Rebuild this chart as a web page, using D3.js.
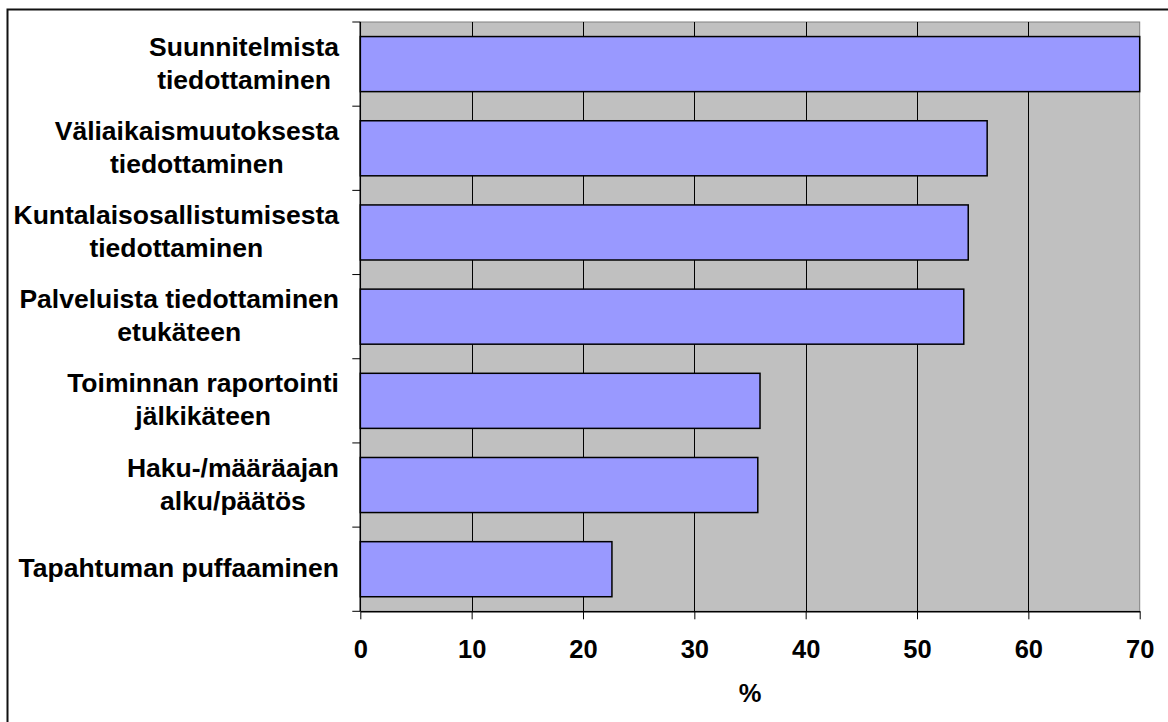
<!DOCTYPE html>
<html>
<head>
<meta charset="utf-8">
<script src="https://cdn.jsdelivr.net/npm/d3@7"></script>
<style>
  html, body { margin: 0; padding: 0; background: #fff; }
  svg { display: block; font-family: "Liberation Sans", Arial, sans-serif; }
</style>
</head>
<body>
<svg id="chart" width="1168" height="722"></svg>
<script>
// ---- data ----
const categories = [
  ["Suunnitelmista", "tiedottaminen"],
  ["Väliaikaismuutoksesta", "tiedottaminen"],
  ["Kuntalaisosallistumisesta", "tiedottaminen"],
  ["Palveluista tiedottaminen", "etukäteen"],
  ["Toiminnan raportointi", "jälkikäteen"],
  ["Haku-/määräajan", "alku/päätös"],
  ["Tapahtuman puffaaminen"]
];
const values = [70.0, 56.3, 54.6, 54.2, 35.9, 35.7, 22.6];
const xTicks = [0, 10, 20, 30, 40, 50, 60, 70];
const xTitle = "%";

(function () {
// ---- layout ----
const svg = d3.select("#chart");
const pL = 360.3, pR = 1139.7, pT = 22, pB = 611.3;
const fontSize = 25.5;
const labelFont = 26.5;

// outer frame (cut off at right and bottom)
svg.append("rect")
  .attr("x", 7.5).attr("y", 9.5).attr("width", 1300).attr("height", 900)
  .attr("fill", "none").attr("stroke", "#111").attr("stroke-width", 2);

const x = d3.scaleLinear().domain([0, 70]).range([pL, pR]);
const keys = categories.map((c, i) => i);
const y = d3.scaleBand().domain(keys).range([pT, pB]).padding(0);
const barH = y.bandwidth() * 0.654;

// plot area
svg.append("rect")
  .attr("x", pL).attr("y", pT).attr("width", pR - pL).attr("height", pB - pT)
  .attr("fill", "#C0C0C0").attr("stroke", "#808080").attr("stroke-width", 1);

// gridlines
svg.append("g").selectAll("line").data(xTicks.filter(t => t > 0 && t < 70)).join("line")
  .attr("x1", d => Math.round(x(d)) + 0.5).attr("x2", d => Math.round(x(d)) + 0.5)
  .attr("y1", pT).attr("y2", pB)
  .attr("stroke", "#000").attr("stroke-width", 1);

// bars
svg.append("g").selectAll("rect").data(values).join("rect")
  .attr("x", x(0))
  .attr("y", (d, i) => y(i) + (y.bandwidth() - barH) / 2)
  .attr("width", d => x(d) - x(0))
  .attr("height", barH)
  .attr("fill", "#9999FF")
  .attr("stroke", "#000").attr("stroke-width", 1.5);

// x axis
const xAxis = svg.append("g")
  .attr("transform", `translate(0,${pB})`)
  .call(d3.axisBottom(x).tickValues(xTicks).tickSize(8).tickPadding(21).tickSizeOuter(0));
xAxis.select(".domain").attr("stroke", "#000").attr("stroke-width", 1.5);
xAxis.selectAll(".tick line").attr("stroke", "#000");
xAxis.selectAll("text")
  .attr("font-size", fontSize).attr("font-weight", "bold").attr("fill", "#000")
  .attr("font-family", "Liberation Sans, Arial, sans-serif");

// y axis (ticks at band boundaries)
const yAxisG = svg.append("g");
yAxisG.append("line").attr("x1", pL).attr("x2", pL).attr("y1", pT).attr("y2", pB)
  .attr("stroke", "#000").attr("stroke-width", 1.5);
const boundaries = keys.map(k => y(k)).concat([pB]);
yAxisG.selectAll("line.tk").data(boundaries).join("line").attr("class", "tk")
  .attr("x1", pL - 8).attr("x2", pL)
  .attr("y1", d => d).attr("y2", d => d)
  .attr("stroke", "#000").attr("stroke-width", 1);

// category labels: centered multi-line blocks, right edge at ~339
const labelRight = 339;
const lineH = 33;
const labG = svg.append("g")
  .attr("font-size", labelFont).attr("font-weight", "bold").attr("fill", "#000");
categories.forEach((lines, i) => {
  const cy = y(i) + y.bandwidth() / 2 - 1.5;
  const t = labG.append("text").attr("text-anchor", "middle");
  const n = lines.length;
  lines.forEach((ln, j) => {
    t.append("tspan").text(ln)
      .attr("y", cy + (j - (n - 1) / 2) * lineH)
      .attr("dy", "0.36em");
  });
  let maxW = 0;
  t.selectAll("tspan").each(function() { maxW = Math.max(maxW, this.getComputedTextLength()); });
  t.selectAll("tspan").attr("x", labelRight - maxW / 2);
});

// x axis title
svg.append("text")
  .attr("x", (pL + pR) / 2).attr("y", 702)
  .attr("text-anchor", "middle")
  .attr("font-size", fontSize).attr("font-weight", "bold")
  .text(xTitle);
})();
</script>
</body>
</html>
